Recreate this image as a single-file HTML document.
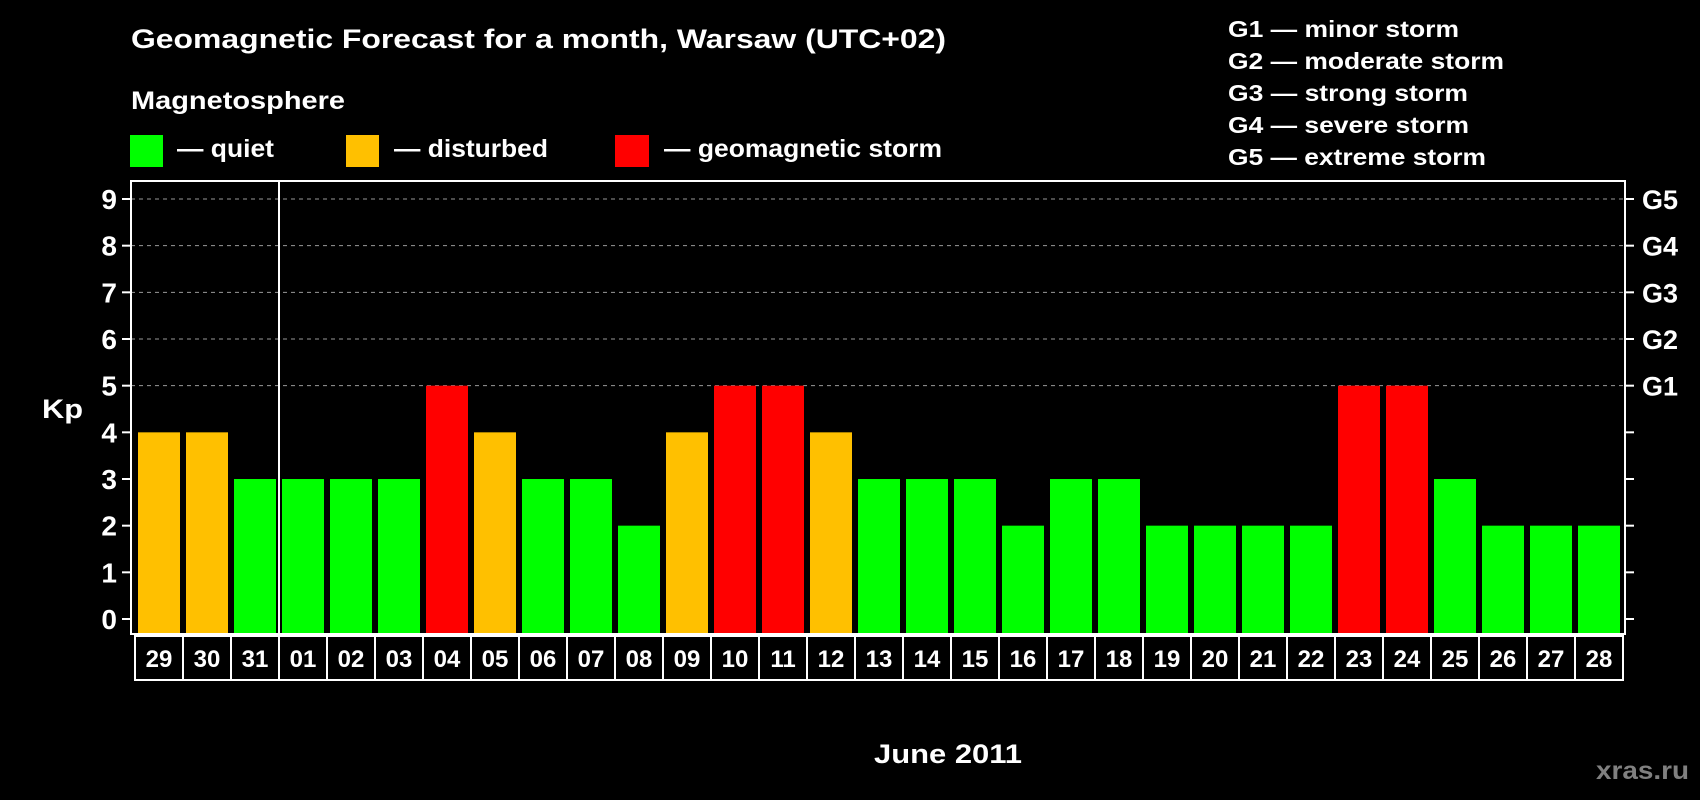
<!DOCTYPE html>
<html><head><meta charset="utf-8"><style>
html,body{margin:0;padding:0;background:#000;}
svg{display:block;font-family:"Liberation Sans",sans-serif;font-weight:bold;}
</style></head><body>
<svg id="chart" width="1700" height="800" viewBox="0 0 1700 800">
<rect width="1700" height="800" fill="#000"/>
<text x="131" y="48" fill="#fff" font-size="27" textLength="815" lengthAdjust="spacingAndGlyphs">Geomagnetic Forecast for a month, Warsaw (UTC+02)</text>
<text x="131" y="109" fill="#fff" font-size="25" textLength="214" lengthAdjust="spacingAndGlyphs">Magnetosphere</text>
<g><rect x="130" y="135" width="33" height="32" fill="#00ff00"/><text x="177" y="157" fill="#fff" font-size="25" textLength="97" lengthAdjust="spacingAndGlyphs">— quiet</text></g>
<g><rect x="346" y="135" width="33" height="32" fill="#ffc000"/><text x="394" y="157" fill="#fff" font-size="25" textLength="154" lengthAdjust="spacingAndGlyphs">— disturbed</text></g>
<g><rect x="615" y="135" width="34" height="32" fill="#ff0000"/><text x="664" y="157" fill="#fff" font-size="25" textLength="278" lengthAdjust="spacingAndGlyphs">— geomagnetic storm</text></g>
<g fill="#fff" font-size="23" lengthAdjust="spacingAndGlyphs">
<text x="1228" y="37" textLength="231" lengthAdjust="spacingAndGlyphs">G1 — minor storm</text>
<text x="1228" y="69" textLength="276" lengthAdjust="spacingAndGlyphs">G2 — moderate storm</text>
<text x="1228" y="101" textLength="240" lengthAdjust="spacingAndGlyphs">G3 — strong storm</text>
<text x="1228" y="133" textLength="241" lengthAdjust="spacingAndGlyphs">G4 — severe storm</text>
<text x="1228" y="165" textLength="258" lengthAdjust="spacingAndGlyphs">G5 — extreme storm</text>
</g>
<text x="42" y="418" fill="#fff" font-size="27" textLength="41" lengthAdjust="spacingAndGlyphs">Kp</text>
<text x="874" y="763" fill="#fff" font-size="27" textLength="148" lengthAdjust="spacingAndGlyphs">June 2011</text>
<text x="1596" y="779" fill="#808080" font-size="25" textLength="93" lengthAdjust="spacingAndGlyphs">xras.ru</text>
<g id="grid"></g><g id="bars"></g><g id="labels"></g>
<rect x="131" y="181" width="1494" height="453" fill="none" stroke="#fff" stroke-width="2"/>
<line x1="279" y1="181" x2="279" y2="634" stroke="#fff" stroke-width="2"/>
</svg>
<script>
const days=["29","30","31","01","02","03","04","05","06","07","08","09","10","11","12","13","14","15","16","17","18","19","20","21","22","23","24","25","26","27","28"];
const kpValues=[4,4,3,3,3,3,5,4,3,3,2,4,5,5,4,3,3,3,2,3,3,2,2,2,2,5,5,3,2,2,2];
const yTicks=[0,1,2,3,4,5,6,7,8,9];
const gLabels=["","","","","","G1","G2","G3","G4","G5"];
const NS="http://www.w3.org/2000/svg";
function y(v){return 619-v*46.667;}
function x(i){return 138+i*48;}
function color(v){return v>=5?"#ff0000":(v>=4?"#ffc000":"#00ff00");}
function mk(t,a,p){const e=document.createElementNS(NS,t);for(const k in a)e.setAttribute(k,a[k]);p.appendChild(e);return e;}
const grid=document.getElementById('grid'),bars=document.getElementById('bars'),labels=document.getElementById('labels');
yTicks.forEach((t,i)=>{
  const yy=y(t);
  if(t>=5){const g=mk('line',{x1:131,x2:1625,y1:yy,y2:yy,stroke:'#999','stroke-dasharray':'4 4','stroke-width':1},grid);
  
  }
  const l=mk('line',{x1:122,x2:131,y1:yy,y2:yy,stroke:'#fff','stroke-width':2},grid);
  
  
  const r=mk('line',{x1:1625,x2:1634,y1:yy,y2:yy,stroke:'#fff','stroke-width':2},grid);
  
  
  const tx=mk('text',{x:117,y:yy+10,fill:'#fff','font-size':28,'text-anchor':'end'},labels);
  tx.textContent=t;
  
  
  if(gLabels[i]){const g2=mk('text',{x:1642,y:yy+10,fill:'#fff','font-size':27},labels);
  g2.textContent=gLabels[i];
  
  }
});
days.forEach((d,i)=>{
  const v=kpValues[i];
  const b=mk('rect',{x:x(i),y:y(v),width:42,height:633-y(v),fill:color(v)},bars);
  
  
  const c=mk('rect',{x:135+i*48,y:636,width:48,height:44,fill:'none',stroke:'#fff','stroke-width':2},labels);
  
  
  const t=mk('text',{x:159+i*48,y:667,fill:'#fff','font-size':24,'text-anchor':'middle'},labels);
  t.textContent=d;
  
  
});
</script>
</body></html>
